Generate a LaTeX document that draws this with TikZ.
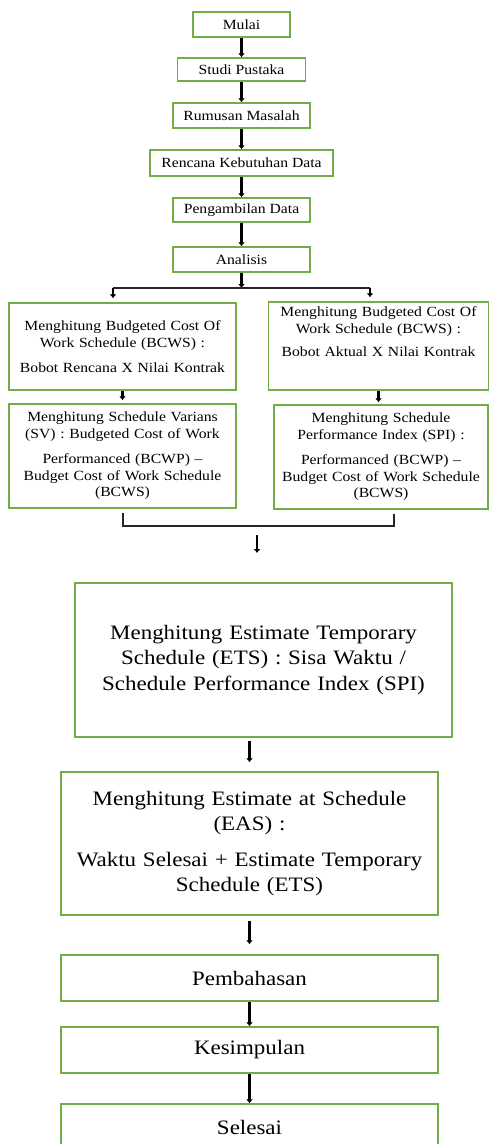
\documentclass[tikz,border=0pt]{standalone}
\usepackage{fontspec}
\setmainfont{Liberation Serif}[FakeStretch=1.12]
\usetikzlibrary{arrows.meta}
\definecolor{boxgreen}{RGB}{112,173,71}

\begin{document}
\begin{tikzpicture}[x=1pt, y=-1pt,
		box/.style={draw=boxgreen, line width=1.5pt, align=center, inner sep=2pt, fill=white},
		small/.style={font=\fontsize{14}{16.7}\selectfont},
		big/.style={font=\fontsize{20.5}{25.5}\selectfont},
		arr/.style={line width=2.4pt, -{Latex[length=4pt,width=7pt]}},
		brace/.style={line width=1.4pt, black!85}]
		% page
		\useasboundingbox (0,0) rectangle (490,1144);
		\clip (0,0) rectangle (490,1144);
		\fill[white] (0,0) rectangle (490,1144);
		% first steps
		\node[box, small, minimum width=97pt, minimum height=25pt] (mulai) at (241.5,24.5) {Mulai};
		\node[box, small, minimum width=128pt, minimum height=23pt] (studi) at (241.5,69.5) {Studi Pustaka};
		\node[box, small, minimum width=137pt, minimum height=25pt] (rumusan) at (241.5,115.5) {Rumusan Masalah};
		\node[box, small, minimum width=183pt, minimum height=26pt] (rencana) at (241.5,163) {Rencana Kebutuhan Data};
		\node[box, small, minimum width=137pt, minimum height=24pt] (ambil) at (241.5,210) {Pengambilan Data};
		\node[box, small, minimum width=137pt, minimum height=25pt] (analisis) at (241.5,259.5) {Analisis};
		\foreach \a/\b in {mulai/studi, studi/rumusan, rumusan/rencana, rencana/ambil, ambil/analisis}
		{
			\draw[arr] (\a) -- (\b);
		}
		% the two branches
		\node[box, small, text width=223pt, minimum height=87pt] (bcwsL) at (122.5,346.5)
			{Menghitung Budgeted Cost Of\\ Work Schedule (BCWS) :\\[8pt] Bobot Rencana X Nilai Kontrak};
		\node[box, small, text width=223pt, minimum height=104pt] (svL) at (122.5,456)
			{Menghitung Schedule Varians\\ (SV) : Budgeted Cost of Work\\[8pt] Performanced (BCWP) --\\ Budget Cost of Work Schedule\\ (BCWS)};
		\node[box, small, text width=216pt, minimum height=88pt] (bcwsR) at (378.5,346)
			{Menghitung Budgeted Cost Of\\ Work Schedule (BCWS) :\\[6pt] Bobot Aktual X Nilai Kontrak\\[12pt] ~};
		\node[box, small, text width=210pt, minimum height=104pt] (spiR) at (381,457)
			{Menghitung Schedule\\ Performance Index (SPI) :\\[8pt] Performanced (BCWP) --\\ Budget Cost of Work Schedule\\ (BCWS)};
		% split after Analisis
		\coordinate (split) at (241.5,288);
		\coordinate (splitL) at (113,288);
		\coordinate (splitR) at (370,288);
		\draw[arr] (analisis) -- (split);
		\draw[brace, line width=1.6pt] (splitL) -- (splitR);
		\draw[arr, shorten >=4pt] (splitL) -- (splitL |- bcwsL.north);
		\draw[arr, shorten >=4pt] (splitR) -- (splitR |- bcwsR.north);
		\draw[arr, shorten >=3pt] (bcwsL) -- (svL);
		\draw[arr, shorten >=2pt] (bcwsR.south) -- (bcwsR.south |- spiR.north);
		% joining bracket
		\coordinate (bl) at (123,526);
		\coordinate (br) at (394,526);
		\draw[brace] ([yshift=-4pt]svL.south -| bl) -- (bl) -- (br) -- ([yshift=-4pt]spiR.south -| br);
		\coordinate (joinA) at (257,535);
		\coordinate (joinB) at (257,553);
		\draw[arr] (joinA) -- (joinB);
		% last steps
		\node[box, big, text width=373pt, minimum height=154pt] (ets) at (263.5,660)
			{Menghitung Estimate Temporary\\ Schedule (ETS) : Sisa Waktu /\\ Schedule Performance Index (SPI)};
		\node[box, big, text width=373pt, minimum height=143pt] (eas) at (249.5,843.5)
			{Menghitung Estimate at Schedule\\ (EAS) :\\[10pt] Waktu Selesai + Estimate Temporary\\ Schedule (ETS)};
		\node[box, big, minimum width=377pt, minimum height=46pt] (bahas) at (249.5,978) {Pembahasan};
		\node[box, big, minimum width=377pt, minimum height=46pt] (simpul) at (249.5,1050) {Kesimpulan};
		\node[box, big, minimum width=377pt, minimum height=46pt] (selesai) at (249.5,1127) {Selesai};
		\draw[arr, shorten <=3pt, shorten >=9pt] (eas.north |- ets.south) -- (eas.north);
		\draw[arr, shorten <=5pt, shorten >=10pt] (eas) -- (bahas);
		\draw[arr] (bahas) -- (simpul);
		\draw[arr] (simpul) -- (selesai);
	\end{tikzpicture}
\end{document}
